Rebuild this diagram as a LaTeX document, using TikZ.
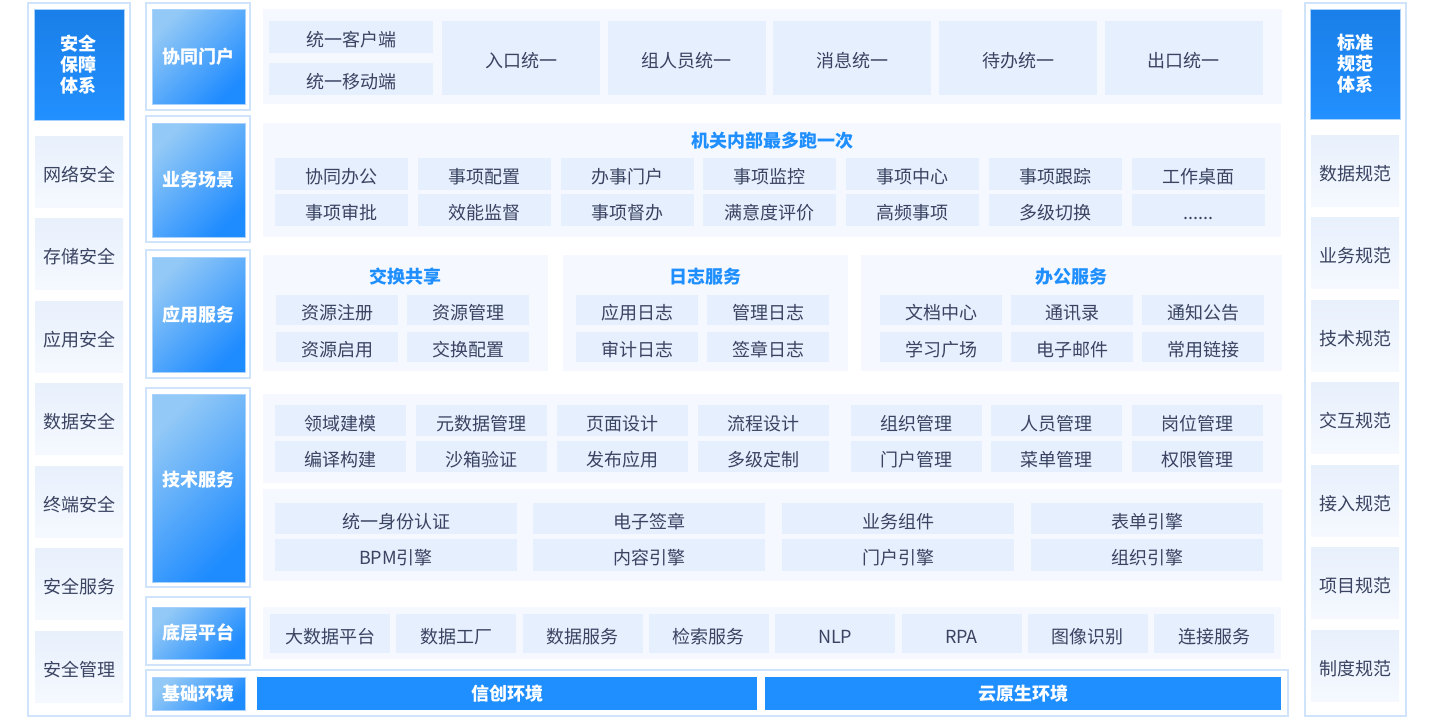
\documentclass[tikz,border=0pt]{standalone}
\usepackage{fontspec}
\setmainfont{Noto Sans CJK SC}
\definecolor{panel}{HTML}{F5F9FF}
\definecolor{item}{HTML}{E5EFFD}
\definecolor{txt}{HTML}{3A4361}
\definecolor{blueT}{HTML}{1F8FFF}
\definecolor{edge}{HTML}{CFE3FA}
\definecolor{hdrTop}{HTML}{1A7FE8}
\definecolor{hdrBot}{HTML}{2290FF}
\definecolor{lblA}{HTML}{93C9F6}
\definecolor{lblB}{HTML}{1E8BFF}
\definecolor{lblEdge}{HTML}{A8D2FB}
\definecolor{bar}{HTML}{1F8FFF}
\definecolor{sideTop}{HTML}{E8F0FC}
\definecolor{sideBot}{HTML}{F5F9FF}
\newcommand\mycell[7]{\node[#6, inner sep=0pt, minimum width={(#4-#2)*0.5pt}, minimum height={(#5-#3)*0.5pt}] (#1) at ({(#2+#4)/2},{(#3+#5)/2}) {#7};}
\newcommand\sixdots{......}
\tikzset{
  outerbox/.style={draw=edge, line width=0.8pt, fill=white},
  panelbox/.style={fill=panel},
  cellbox/.style={fill=item, text=txt, font=\fontsize{9}{10}\selectfont, text height=0.95em, text depth=0pt},
  sidecell/.style={top color=sideTop, bottom color=sideBot, text=txt, font=\fontsize{9}{10}\selectfont, text height=0.95em, text depth=0pt},
  hdrbox/.style={top color=hdrTop, bottom color=hdrBot, draw=lblEdge, line width=0.4pt, text=white, font=\fontsize{9}{10.5}\selectfont\bfseries, align=center},
  lblbox/.style={top color=lblA, bottom color=lblB, shading angle=45, draw=lblEdge, line width=0.4pt, text=white, font=\fontsize{9}{10}\selectfont\bfseries},
  lbltext/.style={text=white, font=\fontsize{9}{10}\selectfont\bfseries, inner sep=0pt},
  titletext/.style={text=blueT, font=\fontsize{9}{10}\selectfont\bfseries, inner sep=0pt},
  barbox/.style={fill=bar, text=white, font=\fontsize{9}{10}\selectfont\bfseries},
}
\begin{document}
\begin{tikzpicture}[x=0.5pt,y=-0.5pt]
\useasboundingbox[fill=white] (0,0) rectangle (1440,720);

% ---------- left column ----------
\mycell{leftouter}{28}{3}{130}{716}{outerbox}{}
\mycell{lefthdr}{34}{9}{124}{120}{hdrbox}{安全\\保障\\体系}
\foreach \t [count=\i] in {网络安全,存储安全,应用安全,数据安全,终端安全,安全服务,安全管理}{
  \pgfmathsetmacro\ya{136+(\i-1)*82.5}
  \mycell{left\i}{35}{\ya}{123}{\ya+71}{sidecell}{\t}
}

% ---------- right column ----------
\mycell{rightouter}{1305}{3}{1406}{716}{outerbox}{}
\mycell{righthdr}{1310}{9}{1400}{119}{hdrbox}{标准\\规范\\体系}
\foreach \t [count=\i] in {数据规范,业务规范,技术规范,交互规范,接入规范,项目规范,制度规范}{
  \pgfmathsetmacro\ya{135+(\i-1)*82.5}
  \mycell{right\i}{1311}{\ya}{1399}{\ya+71}{sidecell}{\t}
}

% ---------- layer labels ----------
\mycell{o1}{146}{3}{250}{110}{outerbox}{}
\mycell{l1}{152}{9}{245}{104}{lblbox}{协同门户}
\mycell{o2}{146}{116}{250}{242}{outerbox}{}
\mycell{l2}{152}{123}{245}{237}{lblbox}{业务场景}
\mycell{o3}{146}{250}{250}{378}{outerbox}{}
\mycell{l3}{152}{257}{245}{372}{lblbox}{应用服务}
\mycell{o4}{146}{388}{250}{587}{outerbox}{}
\mycell{l4}{152}{394}{245}{582}{lblbox}{}
\node[lbltext] (l4t) at (198.5,480) {技术服务};
\mycell{o5}{146}{597}{250}{665}{outerbox}{}
\mycell{l5}{152}{607}{245}{659}{lblbox}{底层平台}
\mycell{o6}{146}{670}{1288}{716}{outerbox}{}
\mycell{l6}{152}{677}{245}{710}{lblbox}{基础环境}
\mycell{bar1}{257}{677}{757}{710}{barbox}{信创环境}
\mycell{bar2}{765}{677}{1281}{710}{barbox}{云原生环境}

% ---------- row 1: 协同门户 ----------
\mycell{p1}{263}{9}{1282}{104}{panelbox}{}
\mycell{r1a}{269}{21}{433}{53}{cellbox}{统一客户端}
\mycell{r1b}{269}{63}{433}{95}{cellbox}{统一移动端}
\foreach \t [count=\i] in {入口统一,组人员统一,消息统一,待办统一,出口统一}{
  \pgfmathsetmacro\xa{442+(\i-1)*165.7}
  \mycell{r1c\i}{\xa}{21}{\xa+158}{95}{cellbox}{\t}
}

% ---------- row 2: 业务场景 ----------
\mycell{p2}{263}{123}{1281}{237}{panelbox}{}
\node[titletext] (t2) at (772,141) {机关内部最多跑一次};
\foreach \t [count=\i] in {协同办公,事项配置,办事门户,事项监控,事项中心,事项跟踪,工作桌面}{
  \pgfmathsetmacro\xa{275+(\i-1)*142.8}
  \mycell{r2a\i}{\xa}{158}{\xa+133}{190}{cellbox}{\t}
}
\foreach \t [count=\i] in {事项审批,效能监督,事项督办,满意度评价,高频事项,多级切换,\sixdots}{
  \pgfmathsetmacro\xa{275+(\i-1)*142.8}
  \mycell{r2b\i}{\xa}{194}{\xa+133}{226}{cellbox}{\t}
}

% ---------- row 3: 应用服务 ----------
\mycell{p3a}{263}{255}{548}{371}{panelbox}{}
\node[titletext] (t3a) at (405.5,277) {交换共享};
\mycell{x1}{276}{295}{398}{325}{cellbox}{资源注册}
\mycell{x2}{407}{295}{529}{325}{cellbox}{资源管理}
\mycell{x3}{276}{332}{398}{362}{cellbox}{资源启用}
\mycell{x4}{407}{332}{529}{362}{cellbox}{交换配置}

\mycell{p3b}{563}{255}{848}{371}{panelbox}{}
\node[titletext] (t3b) at (705.5,277) {日志服务};
\mycell{g1}{576}{295}{698}{325}{cellbox}{应用日志}
\mycell{g2}{707}{295}{829}{325}{cellbox}{管理日志}
\mycell{g3}{576}{332}{698}{362}{cellbox}{审计日志}
\mycell{g4}{707}{332}{829}{362}{cellbox}{签章日志}

\mycell{p3c}{861}{255}{1282}{371}{panelbox}{}
\node[titletext] (t3c) at (1071.5,277) {办公服务};
\mycell{b1}{880}{295}{1002}{325}{cellbox}{文档中心}
\mycell{b2}{1011}{295}{1133}{325}{cellbox}{通讯录}
\mycell{b3}{1142}{295}{1264}{325}{cellbox}{通知公告}
\mycell{b4}{880}{332}{1002}{362}{cellbox}{学习广场}
\mycell{b5}{1011}{332}{1133}{362}{cellbox}{电子邮件}
\mycell{b6}{1142}{332}{1264}{362}{cellbox}{常用链接}

% ---------- row 4: 技术服务 ----------
\mycell{p4a}{263}{394}{1282}{483}{panelbox}{}
\foreach \t/\xa [count=\i] in {领域建模/275,元数据管理/416,页面设计/557,流程设计/698,组织管理/851,人员管理/991,岗位管理/1132}{
  \mycell{r4a\i}{\xa}{405}{\xa+131}{436}{cellbox}{\t}
}
\foreach \t/\xa [count=\i] in {编译构建/275,沙箱验证/416,发布应用/557,多级定制/698,门户管理/851,菜单管理/991,权限管理/1132}{
  \mycell{r4b\i}{\xa}{441}{\xa+131}{472}{cellbox}{\t}
}
\mycell{p4b}{263}{489}{1282}{581}{panelbox}{}
\mycell{e1}{275}{503}{517}{534}{cellbox}{统一身份认证}
\mycell{e2}{533}{503}{765}{534}{cellbox}{电子签章}
\mycell{e3}{782}{503}{1014}{534}{cellbox}{业务组件}
\mycell{e4}{1031}{503}{1263}{534}{cellbox}{表单引擎}
\mycell{e5}{275}{539}{517}{571}{cellbox}{BPM引擎}
\mycell{e6}{533}{539}{765}{571}{cellbox}{内容引擎}
\mycell{e7}{782}{539}{1014}{571}{cellbox}{门户引擎}
\mycell{e8}{1031}{539}{1263}{571}{cellbox}{组织引擎}

% ---------- row 5: 底层平台 ----------
\mycell{p5}{263}{607}{1281}{659}{panelbox}{}
\foreach \t [count=\i] in {大数据平台,数据工厂,数据服务,检索服务,NLP,RPA,图像识别,连接服务}{
  \pgfmathsetmacro\xa{270+(\i-1)*126.3}
  \mycell{r5\i}{\xa}{614}{\xa+120}{653}{cellbox}{\t}
}
\end{tikzpicture}
\end{document}
